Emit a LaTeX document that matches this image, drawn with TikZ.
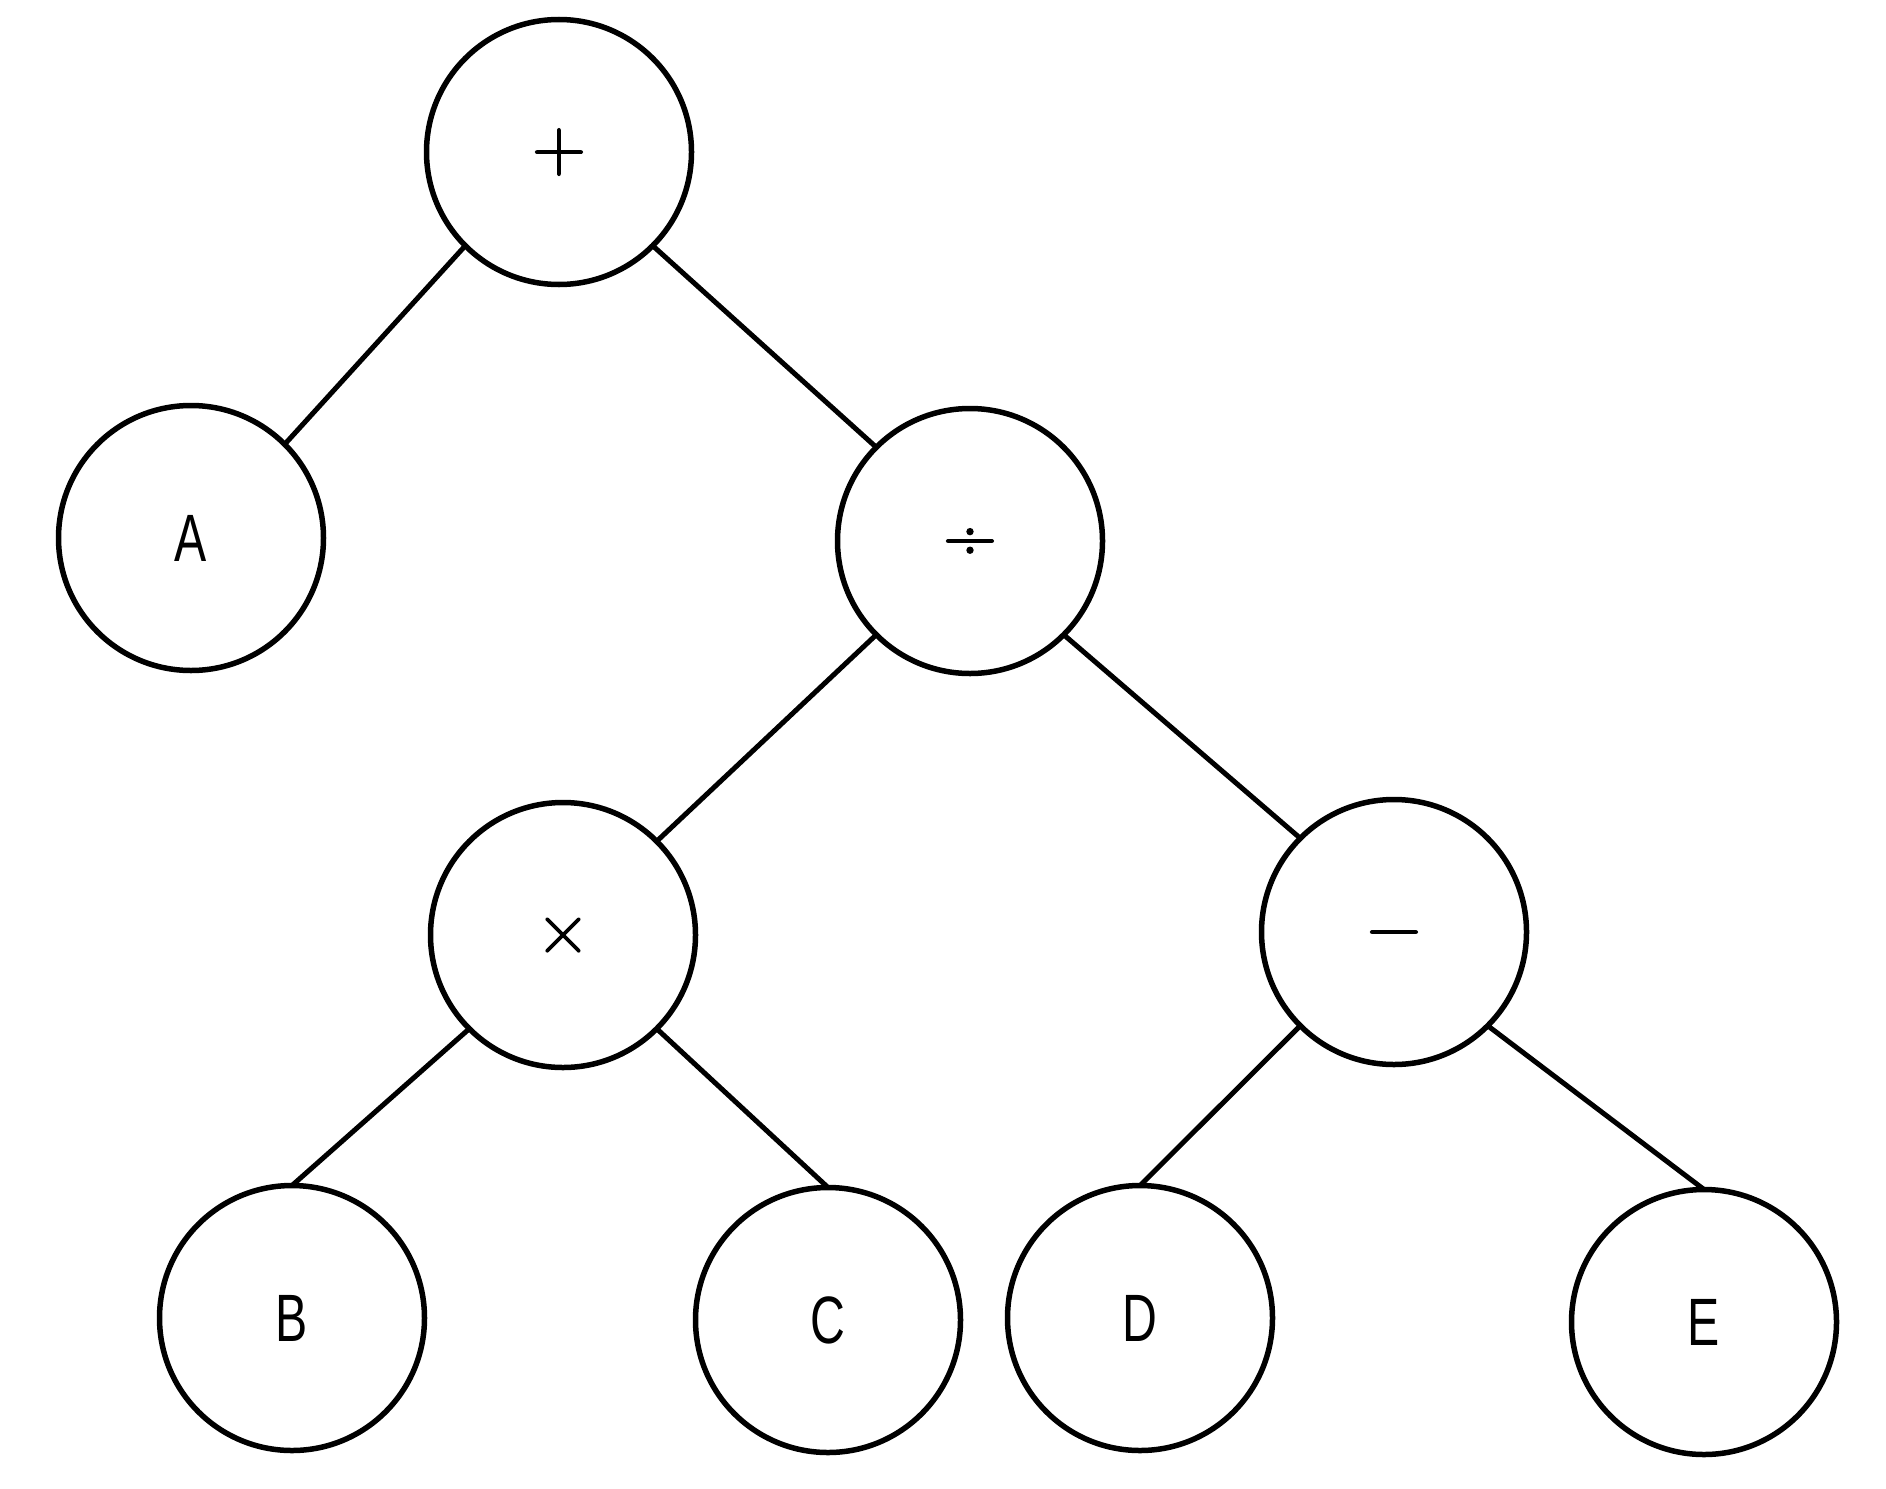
\documentclass[tikz,border=0pt]{standalone}
\usepackage{fontspec}
\setmainfont{Liberation Sans}[FakeStretch=0.72]
\newfontfamily\opfont{Latin Modern Roman}[FakeBold=1.5]
\begin{document}
\begin{tikzpicture}[x=1pt,y=-1pt,
  treenode/.style={circle,draw=black,line width=5.5pt,minimum size=265pt,inner sep=0pt,outer sep=0pt,
    font=\fontsize{67}{67}\selectfont},
  opnode/.style={treenode,font=\opfont\fontsize{75}{75}\selectfont,text height=37.5pt,text depth=0pt},
  edge/.style={draw=black,line width=5pt}]
\useasboundingbox (0,0) rectangle (1886,1488);
\fill[white] (0,0) rectangle (1886,1488);
\node[opnode] (plus) at (559,152) {+};
\node[treenode] (A) at (191,538) {A};
\node[opnode] (div) at (970,541) {÷};
\node[opnode] (times) at (563,935) {×};
\node[opnode] (minus) at (1394,932) {−};
\node[treenode] (B) at (292,1318) {B};
\node[treenode] (C) at (828,1320) {C};
\node[treenode] (D) at (1140,1318) {D};
\node[treenode] (E) at (1704,1322) {E};
\draw[edge] (plus.south west) -- (A.north east);
\draw[edge] (plus.south east) -- (div.north west);
\draw[edge] (div.south west) -- (times.north east);
\draw[edge] (div.south east) -- (minus.north west);
\draw[edge] (times.south west) -- (B.north);
\draw[edge] (times.south east) -- (C.north);
\draw[edge] (minus.south west) -- (D.north);
\draw[edge] (minus.south east) -- (E.north);
\end{tikzpicture}
\end{document}
